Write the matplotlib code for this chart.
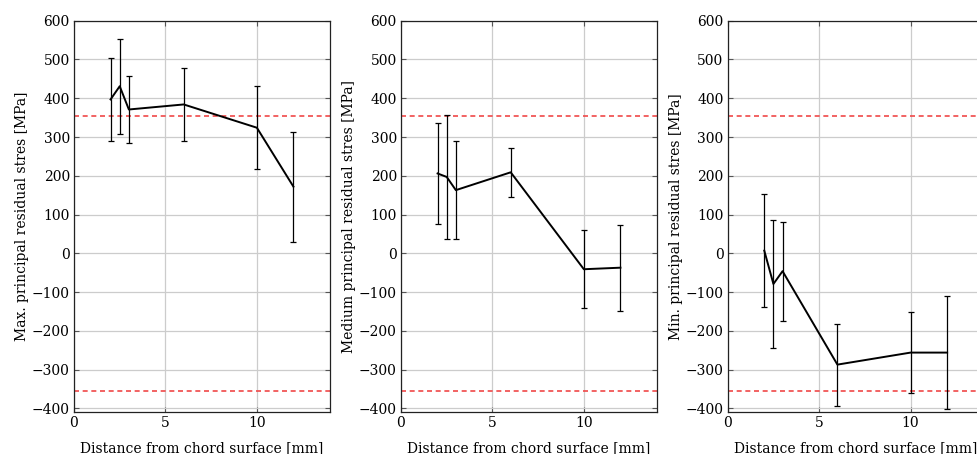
import numpy as np
import matplotlib
matplotlib.use("Agg")
import matplotlib.pyplot as plt

# ---- data ----
depth = [2, 2.5, 3, 6, 10, 12]

max_stress = [397, 431, 371, 384, 324, 172]
max_err = [107, 122, 87, 93, 107, 142]

med_stress = [206, 197, 163, 209, -41, -37]
med_err = [130, 159, 127, 63, 100, 111]

min_stress = [7, -79, -46, -287, -256, -256]
min_err = [145, 166, 128, 106, 105, 145]

yield_limit = 355

ylabels = [
    "Max. principal residual stres [MPa]",
    "Medium principal residual stres [MPa]",
    "Min. principal residual stres [MPa]",
]
xlabel = "Distance from chord surface [mm]"

plt.rcParams["font.family"] = ["DejaVu Serif"]
plt.rcParams["font.size"] = 10

W, H = 978, 454
fig = plt.figure(figsize=(W / 100, H / 100), dpi=100)

lefts = [74, 401, 727.7]
ax_w, ax_top, ax_bot = 256, 20.7, 412.3

series = [(max_stress, max_err), (med_stress, med_err), (min_stress, min_err)]

for left, (vals, errs), ylab in zip(lefts, series, ylabels):
    ax = fig.add_axes([left / W, (H - ax_bot) / H, ax_w / W, (ax_bot - ax_top) / H])
    ax.set_xlim(0, 14)
    ax.set_ylim(-410, 600)
    ax.set_xticks([0, 5, 10])
    ax.set_yticks(np.arange(-400, 601, 100))
    ax.grid(True, color="#cccccc", linewidth=0.9)
    ax.set_axisbelow(True)

    for y in (yield_limit, -yield_limit):
        ax.axhline(y, color="#f04848", linewidth=1.2, dashes=(3, 2.2), zorder=2)

    ax.errorbar(depth, vals, yerr=errs, color="black", linewidth=1.4,
                elinewidth=0.9, capsize=2.5, capthick=0.9, zorder=3)

    ax.tick_params(direction="in", length=3.5, width=0.8, color="#555555",
                   top=True, right=True, labelsize=10, pad=3)
    for sp in ax.spines.values():
        sp.set_linewidth(0.9)
        sp.set_color("#222222")

    ax.set_ylabel(ylab, labelpad=2)
    ax.set_xlabel(xlabel, labelpad=8)

fig.savefig("out.png", dpi=100)
